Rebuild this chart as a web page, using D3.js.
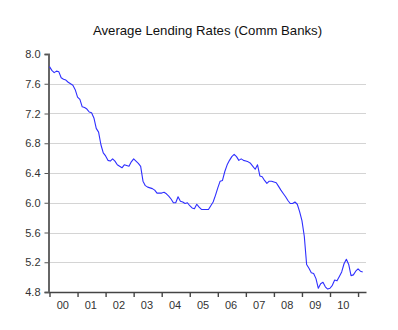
<!DOCTYPE html>
<html>
<head>
<meta charset="utf-8">
<script src="https://cdn.jsdelivr.net/npm/d3@7"></script>
<style>
  html, body { margin: 0; padding: 0; background: #fff; }
  svg { display: block; font-family: "Liberation Sans", Arial, sans-serif; }
</style>
</head>
<body>
<svg id="chart" width="398" height="330"></svg>
<script>
// Monthly average lending rate of commercial banks, Jan 2000 onwards (%)
const startYear = 2000;
const rates = [
  7.83, 7.78, 7.75, 7.77, 7.76, 7.68, 7.66, 7.65, 7.62, 7.60, 7.58, 7.52,
  7.42, 7.39, 7.29, 7.28, 7.26, 7.22, 7.21, 7.14, 7.00, 6.95, 6.78, 6.67,
  6.63, 6.57, 6.56, 6.59, 6.56, 6.51, 6.49, 6.47, 6.51, 6.50, 6.49, 6.55,
  6.59, 6.56, 6.53, 6.49, 6.29, 6.23, 6.21, 6.20, 6.19, 6.17, 6.13, 6.13,
  6.13, 6.14, 6.12, 6.09, 6.05, 6.00, 6.00, 6.08, 6.02, 6.01, 5.99, 6.00,
  5.96, 5.93, 5.92, 5.98, 5.94, 5.91, 5.91, 5.91, 5.91, 5.96, 6.01, 6.10,
  6.20, 6.29, 6.30, 6.42, 6.51, 6.57, 6.62, 6.65, 6.62, 6.57, 6.59, 6.57,
  6.56, 6.55, 6.53, 6.49, 6.45, 6.51, 6.36, 6.35, 6.30, 6.26, 6.29, 6.29,
  6.28, 6.27, 6.22, 6.17, 6.125, 6.08, 6.03, 5.99, 5.99, 6.01, 5.98, 5.88,
  5.76, 5.55, 5.17, 5.12, 5.06, 5.05, 4.98, 4.85, 4.91, 4.93, 4.87, 4.84,
  4.85, 4.89, 4.96, 4.95, 5.01, 5.07, 5.18, 5.24, 5.17, 5.02, 5.03, 5.08,
  5.11, 5.08, 5.07
];
const yearLabels = ["00", "01", "02", "03", "04", "05", "06", "07", "08", "09", "10"];
const yTicks = [4.8, 5.2, 5.6, 6.0, 6.4, 6.8, 7.2, 7.6, 8.0];
const title = "Average Lending Rates (Comm Banks)";

const svg = d3.select("#chart");
const plotLeft = 49.5, plotRight = 366, plotTop = 54, plotBottom = 292;

// x: months since Jan 2000
const x = d3.scaleLinear().domain([0, 135.4]).range([plotLeft, plotRight]);
const y = d3.scaleLinear().domain([4.8, 8.0]).range([plotBottom, plotTop]);

// title
svg.append("text")
  .attr("x", 207.5).attr("y", 34.5)
  .attr("text-anchor", "middle")
  .attr("font-size", 13.2)
  .attr("fill", "#111")
  .text(title);

// horizontal grid lines
svg.append("g")
  .selectAll("line")
  .data(yTicks.filter(t => t > 4.8 && t < 8.0))
  .join("line")
  .attr("x1", plotLeft).attr("x2", plotRight)
  .attr("y1", d => Math.round(y(d)) + 0.5).attr("y2", d => Math.round(y(d)) + 0.5)
  .attr("stroke", "#d4d4d4").attr("stroke-width", 1);

// left axis
const yAxis = d3.axisLeft(y)
  .tickValues(yTicks)
  .tickFormat(d3.format(".1f"))
  .tickSize(4)
  .tickPadding(4);
const gy = svg.append("g").attr("transform", `translate(${plotLeft - 1},0)`).call(yAxis);
gy.select(".domain").attr("stroke", "#666").attr("stroke-width", 2);
gy.selectAll(".tick line").attr("stroke", "#555");
gy.selectAll(".tick text")
  .attr("font-size", 11).attr("fill", "#333")
  .attr("font-family", "Liberation Sans, Arial, sans-serif");

// bottom axis with year boundaries as ticks
const yearTicks = d3.range(0, 12).map(i => i * 12);
const xAxis = d3.axisBottom(x)
  .tickValues(yearTicks)
  .tickFormat("")
  .tickSize(5)
  .tickSizeOuter(0);
const gx = svg.append("g").attr("transform", `translate(0,${plotBottom})`).call(xAxis);
gx.select(".domain").attr("stroke", "#444").attr("stroke-width", 1.4);
gx.selectAll(".tick line").attr("stroke", "#444").attr("stroke-width", 1.4);

// year labels centred within each year
svg.append("g")
  .selectAll("text")
  .data(yearLabels)
  .join("text")
  .attr("x", (d, i) => x(i * 12 + 5.7))
  .attr("y", 308.5)
  .attr("text-anchor", "middle")
  .attr("font-size", 11)
  .attr("fill", "#333")
  .text(d => d);

// rate line
const line = d3.line()
  .x((d, i) => x(i))
  .y(d => y(d));
svg.append("path")
  .datum(rates)
  .attr("d", line)
  .attr("fill", "none")
  .attr("stroke", "#2f2fff")
  .attr("stroke-width", 1.1)
  .attr("stroke-linejoin", "round");
</script>
</body>
</html>
